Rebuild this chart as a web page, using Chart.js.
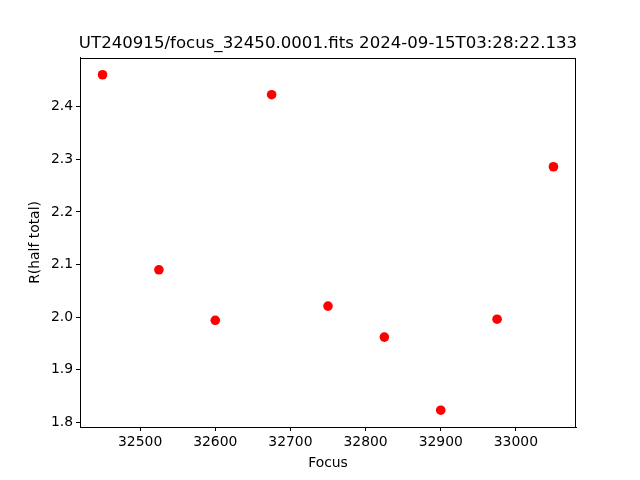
<!DOCTYPE html>
<html>
<head>
<meta charset="utf-8">
<script src="https://cdn.jsdelivr.net/npm/chart.js@4"></script>
<style>
  html, body { margin: 0; padding: 0; background: #fff; }
  #wrap { width: 640px; height: 480px; }
</style>
</head>
<body>
<div id="wrap"><canvas id="focusChart"></canvas></div>
<script>
// focus run data
const focusPositions = [32450, 32525, 32600, 32675, 32750, 32825, 32900, 32975, 33050]
const halfTotalR = [2.461, 2.090, 1.994, 2.423, 2.021, 1.962, 1.823, 1.996, 2.286]
const xTickValues = [32500, 32600, 32700, 32800, 32900, 33000]
const yTickValues = [1.8, 1.9, 2.0, 2.1, 2.2, 2.3, 2.4]

const fontFamily = '"DejaVu Sans", sans-serif'

// frame around the plot area, like matplotlib
const framePlugin = {
    id: 'frame',
    afterDraw(chart) {
        const a = chart.chartArea
        const ctx = chart.ctx
        ctx.save()
        ctx.strokeStyle = '#000'
        ctx.lineWidth = 1
        ctx.strokeRect(Math.round(a.left) + 0.5, Math.round(a.top) + 0.5,
            Math.round(a.right - a.left) - 1, Math.round(a.bottom - a.top))
        ctx.restore()
    }
}

Chart.defaults.font.family = fontFamily
Chart.defaults.color = '#000'

const focusChart = document.getElementById('focusChart')

new Chart(focusChart, {
    type: 'scatter',
    data: {
        datasets: [
            {
                label: 'R(half total)',
                data: focusPositions.map((f, i) => ({ x: f, y: halfTotalR[i] })),
                backgroundColor: '#ff0000',
                borderWidth: 0,
                pointRadius: 4.8,
                pointHoverRadius: 4.8
            }
        ]
    },
    options: {
        responsive: true,
        maintainAspectRatio: false,
        animation: false,
        layout: { padding: { left: 16, right: 0, top: 0, bottom: 0 } },
        plugins: {
            legend: { display: false },
            tooltip: { enabled: false },
            title: {
                display: true,
                text: 'UT240915/focus_32450.0001.fits 2024-09-15T03:28:22.133',
                color: '#000',
                font: { size: 16.6, weight: 'normal', family: fontFamily },
                padding: { top: 34, bottom: 4 }
            }
        },
        scales: {
            x: {
                type: 'linear',
                min: 32420,
                max: 33080,
                afterBuildTicks: scale => { scale.ticks = xTickValues.map(v => ({ value: v })) },
                afterFit: scale => { scale.height = 53 },
                ticks: {
                    color: '#000',
                    font: { size: 13.9 },
                    padding: 3,
                    maxRotation: 0,
                    callback: v => String(v)
                },
                grid: { drawOnChartArea: false, drawTicks: true, tickLength: 4, tickColor: '#000' },
                border: { display: true, color: '#000' },
                title: { display: true, text: 'Focus', color: '#000', font: { size: 13.9 }, padding: { top: 2, bottom: 8 } }
            },
            y: {
                type: 'linear',
                min: 1.791,
                max: 2.493,
                afterBuildTicks: scale => { scale.ticks = yTickValues.map(v => ({ value: v })) },
                afterFit: scale => { scale.width = 64 },
                ticks: {
                    color: '#000',
                    font: { size: 13.9 },
                    padding: 3,
                    callback: v => v.toFixed(1)
                },
                grid: { drawOnChartArea: false, drawTicks: true, tickLength: 4, tickColor: '#000' },
                border: { display: true, color: '#000' },
                title: { display: true, text: 'R(half total)', color: '#000', font: { size: 13.9 }, padding: { top: 11, bottom: 2 } }
            },
            yRight: {
                type: 'linear',
                position: 'right',
                display: true,
                afterFit: scale => { scale.width = 64 },
                ticks: { display: false },
                grid: { display: false },
                border: { display: false }
            }
        }
    },
    plugins: [framePlugin]
})
</script>
</body>
</html>
